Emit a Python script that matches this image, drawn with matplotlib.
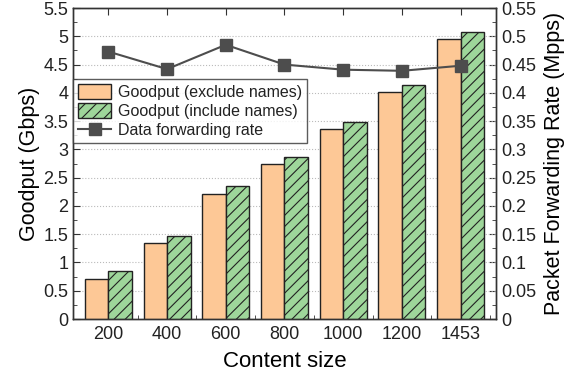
import matplotlib.pyplot as plt
import numpy as np
from matplotlib.ticker import MultipleLocator

plt.rcParams.update({
    "font.family": "Liberation Sans",
    "font.size": 13,
    "hatch.linewidth": 0.8,
    "text.color": "#222222",
    "xtick.color": "#333333",
    "ytick.color": "#333333",
    "xtick.labelcolor": "#222222",
    "ytick.labelcolor": "#222222",
})

sizes = ["200", "400", "600", "800", "1000", "1200", "1453"]
goodput_exclude = [0.71, 1.345, 2.21, 2.74, 3.36, 4.01, 4.95]
goodput_include = [0.85, 1.46, 2.35, 2.87, 3.49, 4.14, 5.07]
fwd_rate = [0.473, 0.442, 0.485, 0.450, 0.441, 0.439, 0.448]

x = np.arange(len(sizes))
w = 0.4

fig = plt.figure(figsize=(5.8, 3.83), dpi=100)
ax = fig.add_axes([0.126, 0.167, 0.729, 0.812])
ax2 = ax.twinx()

ax.set_zorder(1)
ax.patch.set_visible(False)

b1 = ax.bar(x - w / 2, goodput_exclude, w, color="#FDC896", edgecolor="#222222",
            linewidth=1.0, label="Goodput (exclude names)")
b2 = ax.bar(x + w / 2, goodput_include, w, color="#9ED69A", edgecolor="#222222",
            linewidth=1.0, hatch="///", label="Goodput (include names)")
line, = ax.plot(x, fwd_rate, color="#4d4d4d", marker="s", markersize=8,
                linewidth=1.5, label="Data forwarding rate", zorder=5,
                transform=ax2.transData)

ax.set_xlim(-0.6, 6.6)
ax.set_ylim(0, 5.5)
ax2.set_ylim(0, 0.55)
ax.set_xticks(x)
ax.set_xticklabels(sizes)
ax.set_xticks(x + 0.5, minor=True)
ax.set_yticks(np.arange(0, 5.51, 0.5))
ax.set_yticklabels([f"{v:g}" for v in np.arange(0, 5.51, 0.5)])
ax.yaxis.set_minor_locator(MultipleLocator(0.25))
ax2.set_yticks(np.arange(0, 0.551, 0.05))
ax2.set_yticklabels([f"{v:g}" for v in np.round(np.arange(0, 0.551, 0.05), 2)])
ax2.yaxis.set_minor_locator(MultipleLocator(0.025))

ax.grid(axis="y", linestyle=":", color="#bbbbbb", linewidth=0.8)
ax.set_axisbelow(True)

ax.tick_params(axis="both", which="both", direction="in", top=True)
ax.tick_params(axis="y", which="major", length=5)
ax.tick_params(axis="y", which="minor", length=3)
ax.tick_params(axis="x", which="minor", length=3, top=False)
ax.tick_params(axis="x", which="major", length=5, pad=5)
ax2.tick_params(axis="y", which="major", direction="in", length=5)
ax2.tick_params(axis="y", which="minor", direction="in", length=3)

for a in (ax, ax2):
    for s in a.spines.values():
        s.set_color("#333333")
        s.set_linewidth(1.0)

ax.set_xlabel("Content size", fontsize=16, labelpad=6)
ax.set_ylabel("Goodput (Gbps)", fontsize=15.5, labelpad=2)
ax2.set_ylabel("Packet Forwarding Rate (Mpps)", fontsize=15.5, labelpad=6)

leg = ax.legend(handles=[b1, b2, line], loc="upper left",
                bbox_to_anchor=(0.0, 0.772), fontsize=11.5, frameon=True,
                fancybox=False, edgecolor="#333333", borderpad=0.3,
                handlelength=2.1, handleheight=1.1, handletextpad=0.4,
                labelspacing=0.2, borderaxespad=0.0)
leg.get_frame().set_linewidth(1.0)

fig.savefig("out.png", dpi=100)
